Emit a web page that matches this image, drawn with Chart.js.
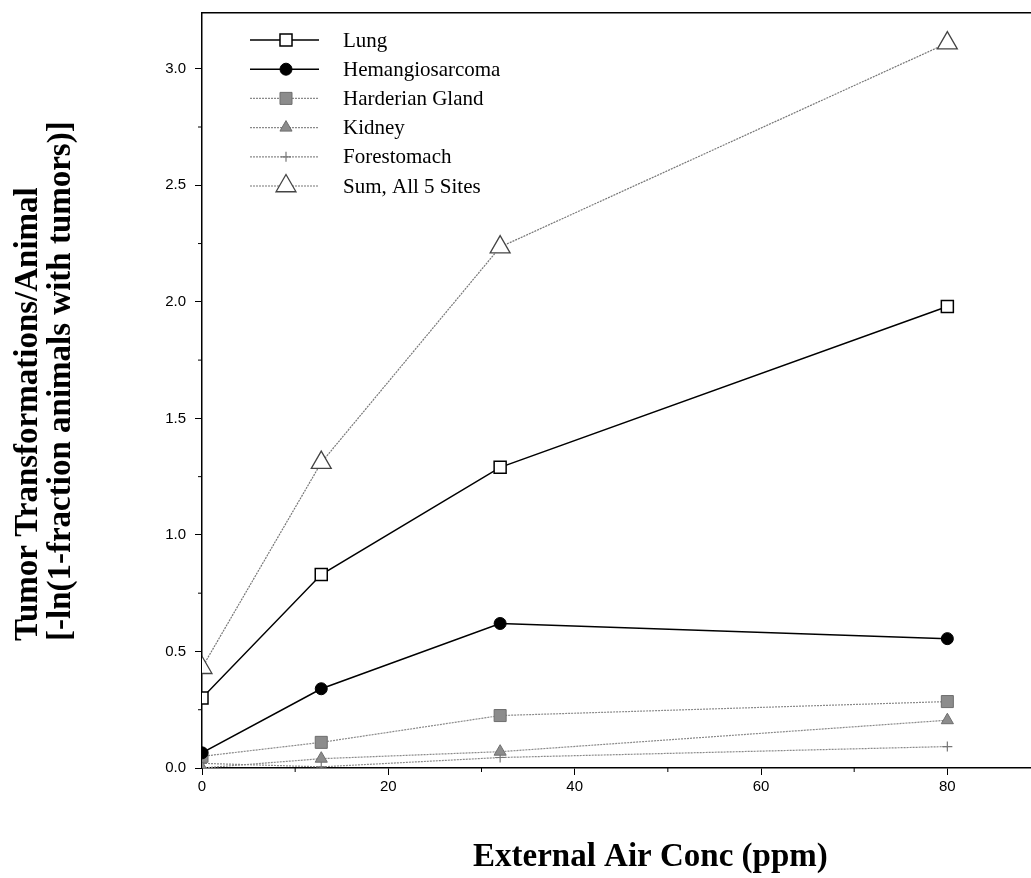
<!DOCTYPE html>
<html>
<head>
<meta charset="utf-8">
<script src="https://cdn.jsdelivr.net/npm/chart.js@4.4.1/dist/chart.umd.min.js"></script>
<style>
  html, body { margin: 0; padding: 0; background: #fff; overflow: hidden; }
  #wrap { position: relative; width: 1044px; height: 878px; }
</style>
</head>
<body>
<div id="wrap"><canvas id="chart"></canvas></div>
<script>
  // ── Data ──
  const doses       = [0, 12.8, 32, 80];
  const lung        = [0.30, 0.83, 1.29, 1.98];
  const hemangio    = [0.065, 0.34, 0.62, 0.555];
  const harderian   = [0.05, 0.11, 0.225, 0.285];
  const kidney      = [0.0, 0.04, 0.07, 0.205];
  const forestomach = [0.02, 0.005, 0.045, 0.092];
  const sumAll      = [0.43, 1.31, 2.235, 3.11];

  const xTicks = [0, 20, 40, 60, 80];
  const xMinor = [10, 30, 50, 70];
  const yTicks = [0, 0.5, 1.0, 1.5, 2.0, 2.5, 3.0];
  const yMinor = [0.25, 0.75, 1.25, 1.75, 2.25, 2.75];

  const SERIES = [
    { label: 'Lung',             data: lung,        line: '#000', dash: [],     width: 1.5, style: 'rect',     r: 8.5, fill: '#fff',    edge: '#000', bw: 1.5 },
    { label: 'Hemangiosarcoma',  data: hemangio,    line: '#000', dash: [],     width: 1.5, style: 'circle',   r: 6,   fill: '#000',    edge: '#000', bw: 1 },
    { label: 'Harderian Gland',  data: harderian,   line: '#8a8a8a', dash: [2, 1], width: 1.2, style: 'rect', r: 8.5, fill: '#8c8c8c', edge: '#6e6e6e', bw: 1 },
    { label: 'Kidney',           data: kidney,      line: '#8a8a8a', dash: [2, 1], width: 1.2, style: 'triangle', r: 7, fill: '#8c8c8c', edge: '#6e6e6e', bw: 1 },
    { label: 'Forestomach',      data: forestomach, line: '#8a8a8a', dash: [2, 1], width: 1.2, style: 'cross', r: 5,  fill: '#777',    edge: '#777', bw: 1.2 },
    { label: 'Sum, All 5 Sites', data: sumAll,      line: '#777', dash: [2, 1], width: 1.2, style: 'triangle', r: 11.5, fill: '#fff',   edge: '#444', bw: 1.3 },
  ];

  const PLOT_LEFT = 202, PLOT_BOTTOM = 768;
  const TITLE_FONT = "bold 33px 'Liberation Serif', 'Times New Roman', serif";

  // ── Extra drawing: frame top, minor ticks, titles, legend ──
  const decor = {
    id: 'decor',
    afterDraw(chart) {
      const { ctx, chartArea: a, scales: { x, y } } = chart;
      ctx.save();
      ctx.strokeStyle = '#000';
      ctx.lineWidth = 1.5;
      ctx.beginPath();
      ctx.moveTo(a.left, a.top); ctx.lineTo(a.right, a.top);
      ctx.stroke();

      ctx.lineWidth = 1;
      ctx.beginPath();
      yMinor.forEach(v => { const py = y.getPixelForValue(v); ctx.moveTo(a.left - 4, py); ctx.lineTo(a.left, py); });
      xMinor.forEach(v => { const px = x.getPixelForValue(v); ctx.moveTo(px, a.bottom); ctx.lineTo(px, a.bottom + 4); });
      ctx.stroke();

      // axis titles
      ctx.fillStyle = '#000';
      ctx.textAlign = 'left';
      ctx.textBaseline = 'alphabetic';
      ctx.font = TITLE_FONT;
      ctx.fillText('External Air Conc (ppm)', 473, 866);
      ctx.save();
      ctx.translate(0, 641);
      ctx.rotate(-Math.PI / 2);
      ctx.fillText('Tumor Transformations/Animal', 0, 37);
      ctx.fillText('[-ln(1-fraction animals with tumors)]', 0, 70);
      ctx.restore();

      // legend: line segment with marker, then label
      ctx.font = "21px 'Liberation Serif', 'Times New Roman', serif";
      ctx.textBaseline = 'middle';
      SERIES.forEach((s, i) => {
        const ly = 40 + i * 29.2;
        ctx.strokeStyle = s.line;
        ctx.lineWidth = s.width;
        ctx.setLineDash(s.dash);
        ctx.beginPath(); ctx.moveTo(250, ly); ctx.lineTo(319, ly); ctx.stroke();
        ctx.setLineDash([]);
        ctx.fillStyle = s.fill;
        ctx.strokeStyle = s.edge;
        ctx.lineWidth = s.bw;
        Chart.helpers.drawPoint(ctx, { pointStyle: s.style, radius: s.r, rotation: 0, borderWidth: s.bw }, 286, ly);
        ctx.fillStyle = '#000';
        ctx.fillText(s.label, 343, ly + 1);
      });
      ctx.restore();
    }
  };

  const datasets = SERIES.map(s => ({
    label: s.label,
    data: doses.map((d, i) => ({ x: d, y: s.data[i] })),
    borderColor: s.line,
    borderWidth: s.width,
    borderDash: s.dash,
    pointStyle: s.style,
    pointRadius: s.r,
    pointHoverRadius: s.r,
    pointBackgroundColor: s.fill,
    pointBorderColor: s.edge,
    pointBorderWidth: s.bw,
    tension: 0,
    fill: false,
  }));

  new Chart(document.getElementById('chart'), {
    type: 'line',
    data: { datasets },
    plugins: [decor],
    options: {
      responsive: true,
      maintainAspectRatio: false,
      animation: false,
      events: [],
      layout: { padding: { top: 10, right: 0, left: 0, bottom: 0 } },
      plugins: { legend: { display: false }, tooltip: { enabled: false } },
      scales: {
        x: {
          type: 'linear',
          min: 0,
          max: 89,
          afterBuildTicks: s => { s.ticks = xTicks.map(v => ({ value: v })); },
          afterFit: s => { s.height = 878 - PLOT_BOTTOM; s.paddingRight = 0; },
          border: { color: '#000', width: 1.5 },
          grid: { drawOnChartArea: false, drawTicks: true, tickLength: 7, color: '#000' },
          ticks: { color: '#000', padding: 3, maxRotation: 0, font: { family: "'Liberation Sans', Arial, sans-serif", size: 15 } },
        },
        y: {
          type: 'linear',
          min: 0,
          max: 3.24,
          afterBuildTicks: s => { s.ticks = yTicks.map(v => ({ value: v })); },
          afterFit: s => { s.width = PLOT_LEFT; s.paddingTop = 0; s.paddingBottom = 0; },
          border: { color: '#000', width: 1.5 },
          grid: { drawOnChartArea: false, drawTicks: true, tickLength: 7, color: '#000' },
          ticks: { color: '#000', padding: 9, callback: v => v.toFixed(1), font: { family: "'Liberation Sans', Arial, sans-serif", size: 15 } },
        },
      },
    },
  });
</script>
</body>
</html>
